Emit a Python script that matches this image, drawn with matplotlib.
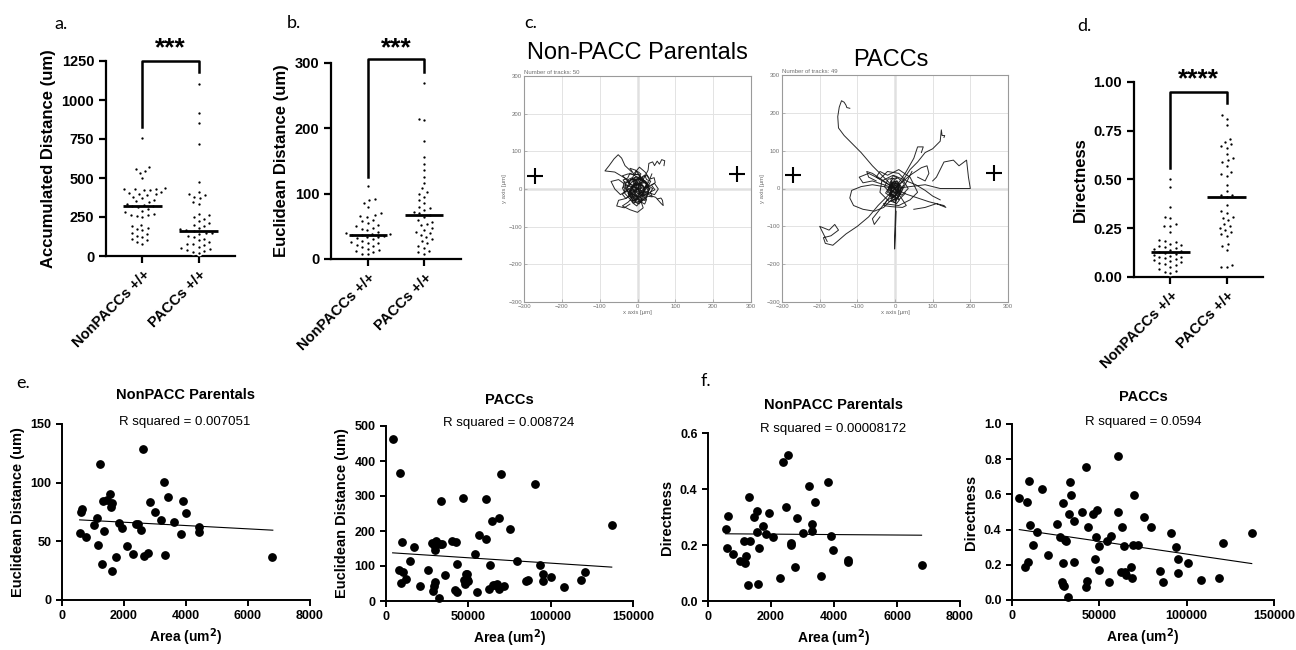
import warnings
import numpy as np
import matplotlib
matplotlib.use('Agg')
import matplotlib.pyplot as plt
import seaborn as sns

warnings.filterwarnings('ignore')
plt.rcParams['font.family'] = ['Liberation Sans', 'DejaVu Sans']

groups = ['NonPACCs +/+', 'PACCs +/+']

# a. accumulated distance (um)
acc_non = [758, 572, 560, 545, 530, 498, 435, 432, 430, 428, 425, 420, 410, 405, 400, 395, 390,
           380, 370, 360, 350, 345, 335, 330, 320, 318, 315, 300, 290, 280, 270, 265, 260, 255,
           250, 200, 190, 180, 170, 165, 150, 140, 130, 120, 110, 100, 90, 80]
acc_pacc = [1105, 915, 855, 720, 475, 410, 400, 390, 380, 370, 345, 335, 270, 260, 250, 235, 225,
            210, 200, 190, 180, 170, 165, 160, 150, 145, 140, 130, 120, 110, 100, 90, 80, 75, 70,
            60, 50, 45, 40, 30, 25, 20]
acc_med = [320, 160]

# b. euclidean distance (um)
euc_non = [111, 92, 90, 86, 79, 70, 68, 66, 64, 60, 58, 55, 52, 50, 48, 46, 44, 42, 40, 39, 38,
           37, 36, 35, 34, 33, 32, 30, 28, 26, 25, 24, 22, 20, 18, 16, 14, 12, 10, 8, 7]
euc_pacc = [270, 215, 212, 180, 156, 146, 136, 125, 116, 108, 103, 100, 95, 90, 85, 80, 78, 75,
            72, 70, 68, 65, 60, 57, 54, 52, 48, 45, 42, 40, 36, 33, 30, 27, 24, 20, 17, 13, 10, 8]
euc_med = [37, 68]

# d. directness
dir_non = [0.50, 0.46, 0.36, 0.31, 0.30, 0.27, 0.26, 0.26, 0.23, 0.19, 0.185, 0.18, 0.17, 0.165,
           0.16, 0.155, 0.15, 0.145, 0.14, 0.135, 0.13, 0.125, 0.12, 0.115, 0.11, 0.105, 0.10,
           0.095, 0.09, 0.085, 0.08, 0.075, 0.07, 0.065, 0.06, 0.05, 0.04, 0.03, 0.025, 0.02]
dir_pacc = [0.83, 0.81, 0.78, 0.71, 0.69, 0.68, 0.67, 0.66, 0.63, 0.61, 0.60, 0.59, 0.57, 0.54,
            0.53, 0.52, 0.47, 0.44, 0.42, 0.42, 0.41, 0.37, 0.34, 0.33, 0.31, 0.30, 0.29, 0.27,
            0.26, 0.25, 0.24, 0.23, 0.22, 0.21, 0.17, 0.16, 0.14, 0.06, 0.05, 0.05]
dir_med = [0.13, 0.41]

# c. migration tracks (um), each starting at the origin
tracks_non = [
    [(0, 0), (-20, 15), (-35, 30), (-60, 45), (-86, 48), (-75, 62), (-62, 80), (-51, 91), (-42, 82), (-33, 62), (-15, 45)],
    [(0, 0), (15, 25), (28, 50), (30, 68), (40, 72), (45, 62), (52, 74), (58, 66), (64, 78), (72, 75), (70, 62)],
    [(0, 0), (20, -8), (35, -18), (48, -22), (55, -30), (62, -38), (68, -44), (66, -30), (62, -24), (54, -26)],
    [(0, 0), (-10, -20), (-25, -35), (-40, -45), (-20, -55), (0, -62), (15, -50), (10, -35)],
    [(0, 0), (-30, 10), (-50, 25), (-70, 20), (-60, 0), (-45, -15), (-30, -5), (-15, 5)],
    [(0, 0), (10, 30), (-5, 50), (-20, 55), (-10, 40), (5, 58), (20, 45), (30, 30)],
    [(0, 0), (25, 5), (45, 15), (55, 0), (45, -15), (30, -10), (20, -25)],
    [(0, 0), (-15, -10), (-30, -25), (-50, -30), (-55, -45), (-35, -50), (-20, -40)],
    [(0, 0), (10, 10), (-8, 15), (-15, -5), (5, -12), (18, 3), (6, 20), (-12, 12), (-20, -10), (0, -20), (15, -15), (22, 8)],
    [(0, 0), (-12, 8), (-25, -12), (-5, -25), (12, -8), (25, 12), (8, 28), (-18, 25), (-28, 5), (-10, -15), (10, -30), (28, -12)],
    [(0, 0), (18, -18), (32, 0), (20, 22), (-5, 32), (-30, 18), (-35, -10), (-15, -32), (8, -22), (30, 20), (38, 40)],
    [(0, 0), (-5, 18), (12, 28), (30, 10), (15, -10), (-10, -5), (-22, 20), (-40, 35), (-25, 40), (5, 38)],
    [(0, 0), (8, -12), (-6, -20), (-18, -8), (-10, 10), (6, 16), (20, 4), (12, -14), (-4, -28), (-22, -20), (-28, 2), (-14, 20), (4, 26), (22, 14), (28, -6)],
    [(0, 0), (-10, -6), (-4, -18), (10, -22), (18, -10), (14, 8), (0, 14), (-16, 6), (-24, -14), (-12, -30), (8, -34), (24, -22), (30, 0), (20, 20), (2, 30)],
    [(0, 0), (7, -3), (3, -14), (14, -19), (9, -31), (-2, -27), (-9, -38), (-19, -29), (-13, -17), (-24, -9), (-31, 4), (-20, 11), (-27, 24), (-14, 30), (-6, 21), (5, 33), (15, 24)],
    [(0, 0), (-8, 5), (-3, 17), (-15, 22), (-11, 35), (1, 40), (9, 30), (19, 37), (24, 25), (35, 21), (29, 9), (40, 1), (33, -11), (22, -6), (17, -18), (4, -12)],
    [(0, 0), (4, 9), (-7, 13), (-3, 24), (-16, 27), (-22, 16), (-35, 19), (-38, 6), (-28, -3), (-40, -14), (-31, -25), (-19, -18), (-12, -31), (0, -24), (8, -36), (18, -27)],
    [(0, 0), (-6, -7), (-17, -4), (-21, -16), (-10, -23), (-14, -36), (-2, -45), (7, -33), (19, -40), (24, -28), (14, -19), (27, -12), (33, 2), (21, 6), (26, 19), (12, 15)],
    [(0, 0), (9, 4), (5, 15), (17, 19), (13, 31), (25, 36), (31, 26), (44, 30), (47, 17), (37, 10), (46, -2), (34, -8), (39, -21), (26, -19), (20, -31), (9, -24)],
    [(0, 0), (-9, -2), (-6, -13), (-18, -15), (-23, -5), (-34, -9), (-40, 3), (-30, 12), (-38, 24), (-26, 29), (-20, 42), (-8, 36), (-2, 48), (9, 40), (4, 28), (14, 20)],
    [(0, 0), (5, -9), (-4, -15), (2, -25), (-7, -32), (4, -40), (12, -30), (6, -20), (14, -12), (7, -2), (13, 9), (3, 14), (-6, 8), (-12, 18), (-4, 26)],
    [(0, 0), (-5, 7), (3, 13), (-3, 22), (6, 28), (-4, 34), (-11, 24), (-7, 12), (-14, 4), (-8, -6), (-15, -16), (-6, -22), (-10, -34), (1, -38), (5, -28)],
]
tracks_pacc = [
    [(0, 0), (-15, 15), (-35, 35), (-60, 60), (-90, 95), (-115, 120), (-135, 140), (-150, 160), (-152, 190), (-148, 215), (-142, 232), (-135, 228), (-130, 220), (-128, 214), (-120, 212)],
    [(0, 0), (-20, -20), (-45, -45), (-70, -75), (-100, -100), (-130, -120), (-165, -150), (-185, -145), (-190, -130), (-170, -125), (-150, -110), (-160, -95), (-175, -110), (-200, -100), (-190, -120), (-180, -140)],
    [(0, 0), (40, 5), (80, 10), (120, 0), (160, 0), (200, 0), (195, 30), (190, 75), (170, 60), (155, 75), (130, 70), (120, 50), (110, 30), (100, 20)],
    [(0, 0), (20, 20), (40, 50), (60, 70), (80, 95), (100, 105), (110, 115), (120, 125), (123, 155), (125, 140), (132, 140), (130, 135)],
    [(0, 0), (30, -15), (60, -25), (90, -35), (130, -45), (135, -50), (110, -40), (80, -50), (50, -55)],
    [(0, 0), (2, -40), (0, -100), (-1, -160), (1, -110), (3, -60)],
    [(0, 0), (-30, 5), (-60, 10), (-90, 5), (-115, -5), (-120, -25), (-110, -45), (-85, -55), (-55, -60), (-30, -50), (-10, -30)],
    [(0, 0), (-30, 20), (-60, 40), (-75, 45), (-70, 30), (-50, 20)],
    [(0, 0), (40, 35), (70, 55), (85, 60), (90, 40), (80, 20), (60, 30)],
    [(0, 0), (-20, -30), (-40, -55), (-60, -80), (-55, -95), (-40, -75)],
    [(0, 0), (30, 45), (50, 80), (60, 110), (75, 110), (70, 95)],
    [(0, 0), (10, 10), (-8, 15), (-15, -5), (5, -12), (18, 3), (6, 20), (-12, 12), (-20, -10), (0, -20), (15, -15), (22, 8)],
    [(0, 0), (-12, 8), (-25, -12), (-5, -25), (12, -8), (25, 12), (8, 28), (-18, 25), (-28, 5), (-10, -15), (10, -30), (28, -12)],
    [(0, 0), (18, -18), (35, 0), (20, 25), (-5, 35), (-35, 20), (-40, -10), (-15, -35), (8, -25), (35, 25), (45, 45)],
    [(0, 0), (-50, 30), (-40, 45), (-20, 35), (10, 50), (40, 30), (60, -10), (40, -30), (10, -45), (-30, -40)],
    [(0, 0), (6, -10), (-4, -22), (-12, -8), (-6, 10), (8, 6), (12, -16), (2, -32), (-10, -26), (-14, 4), (-2, 18), (10, 12), (14, -4)],
    [(0, 0), (-6, -6), (4, -14), (10, -2), (2, 8), (-10, 4), (-12, -16), (0, -26), (12, -20), (16, 2), (4, 20), (-12, 16), (-18, -2)],
    [(0, 0), (3, -8), (-5, -12), (-8, -2), (-2, 6), (6, 2), (8, -14), (-2, -20), (-9, -14), (-10, 8), (0, 14), (9, 8), (10, -6)],
    [(0, 0), (-60, 20), (-85, 15), (-95, 30), (-70, 40), (-40, 25), (-20, 45), (10, 40), (30, 20), (55, 10), (80, -5), (100, -20), (120, -30)],
    [(0, 0), (20, -30), (30, -45), (20, -50), (-10, -48), (-30, -45), (-20, -30), (0, -20)],
    [(0, 0), (5, -9), (-4, -15), (2, -25), (-7, -32), (4, -40), (12, -30), (6, -20), (14, -12), (7, -2), (13, 9), (3, 14), (-6, 8), (-12, 18), (-4, 26)],
    [(0, 0), (-5, 7), (3, 13), (-3, 22), (6, 28), (-4, 34), (-11, 24), (-7, 12), (-14, 4), (-8, -6), (-15, -16), (-6, -22), (-10, -34), (1, -38), (5, -28)],
]

# e. euclidean distance vs area
eL_area = [570, 600, 635, 786, 1023, 1130, 1174, 1217, 1281, 1314, 1346, 1464, 1550, 1572, 1626, 1615,
           1755, 1841, 1938, 2100, 2304, 2380, 2466, 2541, 2627, 2649, 2789, 2832, 3004, 3198, 3295,
           3316, 3435, 3607, 3833, 3898, 3984, 4425, 4425, 6772]
eL_dist = [57, 74.6, 77.4, 54, 63.5, 69.7, 47, 116, 30.7, 84.8, 58.4, 85, 90, 79, 82.5, 25, 36.4, 66,
           61.5, 46.4, 39, 64.6, 64.6, 59.8, 128.7, 37.6, 40, 83.7, 74.9, 68.3, 100.8, 38.4, 88.2, 66.9,
           56.6, 84.3, 74, 61.8, 57.8, 36.4]
eL_fit_x = [570, 6800]
eL_fit_y = [68.3, 59.5]

eR_area = [4040, 7670, 8680, 9090, 9490, 10500, 12300, 14330, 17160, 20390, 25440, 28170, 28470,
           28870, 29070, 29470, 29880, 30490, 31900, 32910, 33310, 33720, 35530, 39980, 42200, 42600,
           43000, 43410, 46640, 47650, 48250, 48650, 49060, 49260, 49870, 54110, 55320, 56540, 60570,
           60570, 62390, 63200, 64410, 64820, 66230, 67440, 68450, 68850, 69860, 71470, 75310, 79550,
           84800, 86210, 90650, 93480, 95090, 95090, 100340, 107810, 118500, 120730, 137090]
eR_dist = [462, 90, 367, 52, 170, 82.5, 62.6, 115.7, 155.6, 42.7, 90, 167, 30, 41.7, 160, 147, 54, 172,
           7.6, 163, 286.5, 163, 73, 172.7, 31, 170, 26.6, 107, 294, 58.8, 50, 76.9, 75.9, 61.7, 57,
           133.8, 25.6, 189.8, 290.3, 176.5, 34, 103.4, 228.7, 44.6, 46.5, 49.3, 35.1, 238, 363, 42.7,
           206.8, 113.9, 56, 60.7, 334, 101.5, 76.9, 56, 68.3, 39.8, 59.8, 81.6, 216.3]
eR_fit_x = [4040, 137090]
eR_fit_y = [137.6, 96.8]

# f. directness vs area
fL_area = [560, 625, 600, 785, 1005, 1130, 1175, 1218, 1260, 1300, 1345, 1460, 1545, 1555, 1610, 1600,
           1750, 1830, 1930, 2075, 2290, 2370, 2470, 2535, 2630, 2650, 2775, 2820, 3010, 3200, 3305,
           3315, 3410, 3600, 3825, 3900, 3975, 4440, 4440, 6780]
fL_dir = [0.258, 0.305, 0.19, 0.167, 0.143, 0.216, 0.136, 0.16, 0.056, 0.37, 0.213, 0.30, 0.32, 0.248,
          0.19, 0.06, 0.268, 0.24, 0.314, 0.23, 0.082, 0.495, 0.335, 0.522, 0.20, 0.206, 0.123, 0.296,
          0.244, 0.41, 0.276, 0.25, 0.354, 0.091, 0.425, 0.231, 0.182, 0.146, 0.14, 0.128]
fL_fit_x = [560, 6780]
fL_fit_y = [0.240, 0.235]

fR_area = [4190, 8760, 9140, 9520, 7230, 10280, 12180, 14470, 16940, 20560, 25700, 27220, 28750, 28940,
           28940, 29320, 29700, 30080, 30650, 31790, 32740, 33310, 33500, 35220, 35600, 40170, 42450,
           42640, 43210, 43590, 46640, 47590, 48160, 48540, 49870, 50060, 54250, 55390, 56540, 60540,
           60730, 62250, 63200, 64150, 64720, 65480, 68150, 68910, 69100, 69670, 71960, 75380, 79570,
           84900, 86420, 90800, 93660, 95180, 95180, 100510, 108130, 118790, 120880, 137250]
fR_dir = [0.579, 0.554, 0.218, 0.674, 0.186, 0.427, 0.313, 0.387, 0.632, 0.254, 0.433, 0.36, 0.104, 0.55,
          0.085, 0.212, 0.08, 0.34, 0.338, 0.019, 0.49, 0.668, 0.596, 0.448, 0.218, 0.501, 0.072, 0.755,
          0.108, 0.414, 0.488, 0.233, 0.36, 0.512, 0.307, 0.171, 0.338, 0.102, 0.366, 0.501, 0.816,
          0.159, 0.416, 0.304, 0.159, 0.144, 0.188, 0.127, 0.315, 0.594, 0.315, 0.474, 0.417, 0.163,
          0.104, 0.381, 0.3, 0.233, 0.154, 0.212, 0.114, 0.123, 0.322, 0.381]
fR_fit_x = [4190, 137250]
fR_fit_y = [0.40, 0.207]

W, H = 1296, 650
fig = plt.figure(figsize=(W / 100, H / 100), dpi=100)


def rect(x0, x1, y0, y1):
    # pixel box -> figure fraction
    return [x0 / W, 1 - y1 / H, (x1 - x0) / W, (y1 - y0) / H]


def ftext(x, y, s, **kw):
    fig.text(x / W, 1 - y / H, s, ha='center', va='center', **kw)


def prism_axes(ax, lw=1.6, ticklen=5, labelsize=10.5):
    for s in ['top', 'right']:
        ax.spines[s].set_visible(False)
    for s in ['left', 'bottom']:
        ax.spines[s].set_linewidth(lw)
    ax.tick_params(width=lw, length=ticklen, labelsize=labelsize, color='black')
    for lab in ax.get_xticklabels() + ax.get_yticklabels():
        lab.set_fontweight('bold')


def column_plot(box, non, pacc, med, ymax, yticks, ylabel, brk, stars, star_y, fmt=None):
    ax = fig.add_axes(rect(*box))
    cats = [groups[0]] * len(non) + [groups[1]] * len(pacc)
    # white rim keeps the swarm spacing wide while the visible dots stay small
    sns.swarmplot(x=cats, y=non + pacc, order=groups, ax=ax, color='black', size=2.9,
                  linewidth=1.2, edgecolor='white')
    ax.hlines(med, [-0.34, 0.66], [0.34, 1.34], color='black', lw=2.0, zorder=5)
    ax.plot([0, 0, 1, 1], [brk[0], brk[1], brk[1], brk[2]], color='black', lw=1.8, clip_on=False)
    ax.text(0.5, star_y, stars, ha='center', va='center', fontsize=19, fontweight='bold')
    ax.set_xlim(-0.65, 1.65)
    ax.set_ylim(0, ymax)
    ax.set_yticks(yticks)
    if fmt:
        ax.set_yticklabels([fmt.format(t) for t in yticks])
    ax.set_xticks([0, 1])
    ax.set_xticklabels(groups, rotation=45, ha='right', rotation_mode='anchor')
    ax.set_ylabel(ylabel, fontsize=12, fontweight='bold', labelpad=4)
    ax.set_xlabel('')
    prism_axes(ax)
    return ax


column_plot((106, 235, 61, 256), acc_non, acc_pacc, acc_med, 1250, [0, 250, 500, 750, 1000, 1250],
            'Accumulated Distance (um)', (830, 1250, 1180), '***', 1330)
column_plot((331, 461, 63, 259), euc_non, euc_pacc, euc_med, 300, [0, 100, 200, 300],
            'Euclidean Distance (um)', (125, 306, 286), '***', 322)
column_plot((1134, 1263, 82, 277), dir_non, dir_pacc, dir_med, 1.0, [0, 0.25, 0.5, 0.75, 1.0],
            'Directness', (0.56, 0.95, 0.89), '****', 1.015, fmt='{:.2f}')


def track_plot(box, tracks, n):
    ax = fig.add_axes(rect(*box))
    for tr in tracks:
        xy = np.array(tr)
        ax.plot(xy[:, 0], xy[:, 1], color='#111111', lw=0.7, alpha=0.9)
    ax.axhline(0, color='#8c8c8c', lw=1.0, zorder=0)
    ax.axvline(0, color='#8c8c8c', lw=1.0, zorder=0)
    ax.set_xlim(-300, 300)
    ax.set_ylim(-300, 300)
    ticks = [-300, -200, -100, 0, 100, 200, 300]
    ax.set_xticks(ticks)
    ax.set_yticks(ticks)
    ax.grid(True, color='#e3e3e3', lw=0.7)
    ax.set_axisbelow(True)
    for s in ax.spines.values():
        s.set_color('#9a9a9a')
        s.set_linewidth(0.8)
    ax.tick_params(direction='in', length=2, width=0.5, color='#9a9a9a', labelsize=4.3, labelcolor='#707070', pad=1.5)
    ax.set_xlabel('x axis [\u00b5m]', fontsize=4.3, color='#707070', labelpad=1)
    ax.set_ylabel('y axis [\u00b5m]', fontsize=4.3, color='#707070', labelpad=1)
    ax.text(0.0, 1.005, 'Number of tracks: %d' % n, transform=ax.transAxes, fontsize=4.3,
            color='#707070', va='bottom', ha='left')
    ax.plot([-270, 262], [35, 40], ls='none', marker='+', ms=11, mew=1.5, color='black')
    return ax


track_plot((524, 751, 76, 302), tracks_non, 50)
track_plot((782, 1008, 75, 302), tracks_pacc, 49)
ftext(637, 53, 'Non-PACC Parentals', fontsize=17)
ftext(891, 60, 'PACCs', fontsize=17)


def scatter_plot(box, xs, ys, fx, fy, xlim, xticks, ylim, yticks, ylabel, title, rsq, tpos, fmt=None):
    ax = fig.add_axes(rect(*box))
    ax.scatter(xs, ys, s=28, color='black', zorder=3, clip_on=False)
    ax.plot(fx, fy, color='black', lw=0.8)
    ax.set_xlim(*xlim)
    ax.set_ylim(*ylim)
    ax.set_xticks(xticks)
    ax.set_yticks(yticks)
    if fmt:
        ax.set_yticklabels([fmt.format(t) for t in yticks])
    ax.set_ylabel(ylabel, fontsize=10.5, fontweight='bold', labelpad=4)
    ax.set_xlabel('Area (um$^\\mathbf{2}$)', fontsize=10, fontweight='bold', labelpad=3)
    prism_axes(ax, lw=1.4, ticklen=4, labelsize=9)
    ftext(tpos[0], tpos[1], title, fontsize=10.5, fontweight='bold')
    ftext(tpos[0], tpos[2], rsq, fontsize=9.5)
    return ax


scatter_plot((62, 310, 424, 600), eL_area, eL_dist, eL_fit_x, eL_fit_y, (0, 8000), [0, 2000, 4000, 6000, 8000],
             (0, 150), [0, 50, 100, 150], 'Euclidean Distance (um)', 'NonPACC Parentals',
             'R squared = 0.007051', (185, 395, 422))
scatter_plot((386, 633, 426, 601), eR_area, eR_dist, eR_fit_x, eR_fit_y, (0, 150000), [0, 50000, 100000, 150000],
             (0, 500), [0, 100, 200, 300, 400, 500], 'Euclidean Distance (um)', 'PACCs',
             'R squared = 0.008724', (509, 400, 423))
scatter_plot((708, 960, 433, 601), fL_area, fL_dir, fL_fit_x, fL_fit_y, (0, 8000), [0, 2000, 4000, 6000, 8000],
             (0, 0.6), [0, 0.2, 0.4, 0.6], 'Directness', 'NonPACC Parentals',
             'R squared = 0.00008172', (833, 405, 429), fmt='{:.1f}')
scatter_plot((1012, 1274, 424, 600), fR_area, fR_dir, fR_fit_x, fR_fit_y, (0, 150000), [0, 50000, 100000, 150000],
             (0, 1.0), [0, 0.2, 0.4, 0.6, 0.8, 1.0], 'Directness', 'PACCs',
             'R squared = 0.0594', (1143, 397, 422), fmt='{:.1f}')

# panel letters
for lx, ly, s in [(61, 24, 'a.'), (294, 23, 'b.'), (531, 23, 'c.'), (1084, 26, 'd.'),
                  (23, 383, 'e.'), (706, 381, 'f.')]:
    ftext(lx, ly, s, fontsize=13, family=['Lato', 'DejaVu Sans'])

fig.savefig('out.png', dpi=100)
